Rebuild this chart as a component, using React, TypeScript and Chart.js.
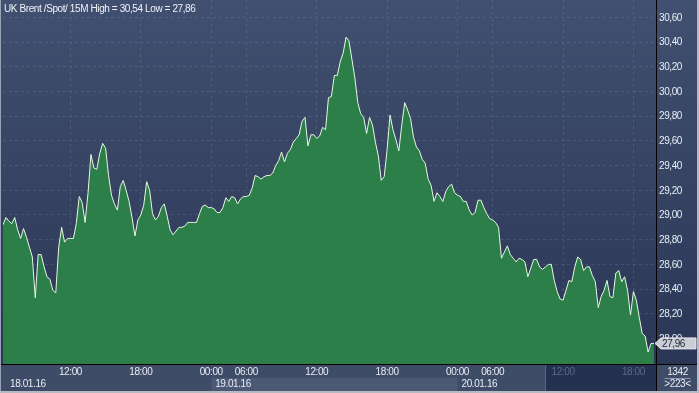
import React, { useEffect, useRef } from 'react';
import { Chart, registerables } from 'chart.js';

Chart.register(...registerables);

// 15-minute closes, UK Brent spot, 18.01.16 06:15 -> 20.01.16 ~19:45
const prices: number[] = [
  28.92, 28.98, 28.95, 28.93, 28.98, 28.88, 28.81, 28.89, 28.82, 28.74,
  28.66, 28.33, 28.68, 28.68, 28.58, 28.50, 28.48, 28.39, 28.37, 28.74,
  28.90, 28.78, 28.81, 28.81, 28.81, 28.93, 29.15, 29.10, 28.94, 29.18,
  29.49, 29.38, 29.37, 29.50, 29.58, 29.54, 29.32, 29.16, 29.09, 29.04,
  29.23, 29.28, 29.20, 29.11, 28.98, 28.83, 28.96, 29.00, 29.08, 29.27,
  29.20, 29.01, 28.96, 28.99, 29.06, 29.09, 28.99, 28.88, 28.84, 28.87,
  28.90, 28.90, 28.91, 28.94, 28.94, 28.94, 28.94, 29.01, 29.07, 29.08,
  29.06, 29.06, 29.05, 29.02, 29.02, 29.06, 29.14, 29.11, 29.15, 29.14,
  29.09, 29.13, 29.15, 29.15, 29.16, 29.22, 29.32, 29.31, 29.29, 29.31,
  29.32, 29.32, 29.34, 29.40, 29.44, 29.51, 29.43, 29.50, 29.53, 29.59,
  29.62, 29.65, 29.76, 29.79, 29.56, 29.65, 29.65, 29.62, 29.64, 29.71,
  29.69, 29.95, 29.96, 30.13, 30.13, 30.24, 30.31, 30.44, 30.41, 30.26,
  30.11, 29.91, 29.82, 29.79, 29.66, 29.79, 29.73, 29.59, 29.48, 29.28,
  29.31, 29.53, 29.81, 29.69, 29.61, 29.52, 29.73, 29.91, 29.85, 29.78,
  29.63, 29.55, 29.52, 29.45, 29.42, 29.29, 29.24, 29.11, 29.18, 29.15,
  29.11, 29.19, 29.23, 29.25, 29.18, 29.16, 29.15, 29.11, 29.11, 29.04,
  29.00, 29.02, 29.12, 29.12, 29.06, 29.01, 28.97, 28.96, 28.94, 28.90,
  28.65, 28.70, 28.75, 28.68, 28.65, 28.62, 28.65, 28.64, 28.62, 28.50,
  28.57, 28.64, 28.64, 28.58, 28.56, 28.58, 28.60, 28.60, 28.47, 28.38,
  28.32, 28.31, 28.39, 28.47, 28.46, 28.58, 28.66, 28.64, 28.55, 28.58,
  28.58, 28.51, 28.46, 28.25, 28.34, 28.39, 28.47, 28.34, 28.33, 28.53,
  28.55, 28.46, 28.50, 28.39, 28.19, 28.38, 28.31, 28.17, 28.04, 28.02,
  27.89, 27.96, 27.96,
];

const priceTicks: number[] = [28.0, 28.2, 28.4, 28.6, 28.8, 29.0, 29.2, 29.4, 29.6, 29.8, 30.0, 30.2, 30.4, 30.6];
const timeTickIdx: number[] = [23, 47, 71, 83, 107, 131, 155, 167, 191, 215];
const timeTickLabels: string[] = ['12:00', '18:00', '00:00', '06:00', '12:00', '18:00', '00:00', '06:00', '12:00', '18:00'];
const dayStartIdx: number[] = [-25, 71, 155];
const dayLabels: string[] = ['18.01.16', '19.01.16', '20.01.16'];
const titleText = 'UK Brent /Spot/ 15M High = 30,54 Low = 27,86';
const counterTop = '1342';
const counterBottom = '>223<';

const Y_MIN = 27.7935;
const Y_MAX = 30.7409;
const X_MAX = 222.7;
const NAV_START_IDX = 185.2;

const FONT = '"Liberation Sans", Arial, sans-serif';
const fmt = (v: number) => v.toFixed(2).replace('.', ',');

const panelPlugin = {
  id: 'panelPlugin',
  beforeDraw(chart: any) {
    const { ctx, width, height, chartArea } = chart;
    ctx.save();
    const g = ctx.createLinearGradient(0, 0, 0, chartArea.bottom);
    g.addColorStop(0, '#415070');
    g.addColorStop(1, '#2b3656');
    ctx.fillStyle = g;
    ctx.fillRect(0, 0, width, height);
    ctx.restore();
  },
  afterDraw(chart: any) {
    const { ctx, width, height, chartArea, scales } = chart;
    const xs = scales.x;
    const ys = scales.y;
    const bottom = chartArea.bottom;
    ctx.save();
    try { (ctx as any).letterSpacing = '-0.4px'; } catch (e) { /* ignore */ }
    // bottom panel
    ctx.fillStyle = '#3f4c68';
    ctx.fillRect(0, bottom + 1, width, height - bottom - 1);
    // lighter band for the middle day
    const d1 = xs.getPixelForValue(dayStartIdx[1]);
    const d2 = xs.getPixelForValue(dayStartIdx[2]);
    ctx.fillStyle = '#4c5975';
    ctx.fillRect(d1, 378, d2 - d1, 13);
    // navigator dark region
    const navX = xs.getPixelForValue(NAV_START_IDX);
    ctx.fillStyle = '#253150';
    ctx.fillRect(navX, bottom + 1, chartArea.right - navX, 391 - bottom - 1);
    ctx.fillStyle = '#5b6782';
    ctx.fillRect(navX - 1, bottom + 1, 1, 391 - bottom - 1);
    // black axis lines
    ctx.fillStyle = '#000';
    ctx.fillRect(0, bottom, width, 1);
    ctx.fillRect(chartArea.right, bottom, 1, 391 - bottom);

    ctx.font = `10px ${FONT}`;
    // price labels
    ctx.textAlign = 'left';
    ctx.textBaseline = 'middle';
    ctx.fillStyle = '#e8edf5';
    priceTicks.forEach((v) => {
      ctx.fillText(fmt(v), chartArea.right + 3, ys.getPixelForValue(v) + 0.5);
    });

    // time labels
    ctx.textAlign = 'center';
    timeTickIdx.forEach((idx, i) => {
      const px = xs.getPixelForValue(idx);
      ctx.fillStyle = idx > NAV_START_IDX ? '#5d6984' : '#e8edf5';
      ctx.fillText(timeTickLabels[i], px, 372);
    });
    // date labels
    ctx.textAlign = 'left';
    ctx.fillStyle = '#e8edf5';
    dayStartIdx.forEach((idx, i) => {
      const px = Math.max(xs.getPixelForValue(idx) + 4, 10);
      ctx.fillText(dayLabels[i], px, 384);
    });
    // counter panel
    ctx.textAlign = 'center';
    const cx = (chartArea.right + width) / 2;
    ctx.fillText(counterTop, cx, 372);
    ctx.fillStyle = '#8d96ab';
    ctx.fillRect(cx - 13, 378, 26, 1);
    ctx.fillStyle = '#e8edf5';
    ctx.fillText(counterBottom, cx, 384.5);

    // title
    ctx.textAlign = 'left';
    ctx.textBaseline = 'alphabetic';
    ctx.fillStyle = '#eef2f8';
    ctx.fillText(titleText, 4, 12);

    // last value box
    const last = prices[prices.length - 1];
    const yy = ys.getPixelForValue(last);
    const r = chartArea.right;
    ctx.beginPath();
    ctx.moveTo(r - 1, yy);
    ctx.lineTo(r + 5, yy - 5.5);
    ctx.lineTo(width - 3, yy - 5.5);
    ctx.lineTo(width - 3, yy + 5.5);
    ctx.lineTo(r + 5, yy + 5.5);
    ctx.closePath();
    ctx.fillStyle = '#c9cdd6';
    ctx.fill();
    ctx.strokeStyle = '#e3e6ec';
    ctx.lineWidth = 1;
    ctx.stroke();
    ctx.fillStyle = '#1c2433';
    ctx.textBaseline = 'middle';
    ctx.fillText(fmt(last), r + 6, yy + 0.5);

    // outer frame
    ctx.fillStyle = '#9aa3b5';
    ctx.fillRect(0, 0, 1, height);
    ctx.fillStyle = '#b4b9c4';
    ctx.fillRect(0, height - 2, width, 2);
    ctx.fillRect(width - 2, 0, 2, height);
    ctx.restore();
  },
};

export default function App() {
  const ref = useRef<HTMLCanvasElement>(null);
  useEffect(() => {
    document.body.style.margin = '0';
    const canvas = ref.current!;
    const chart = new Chart(canvas, {
      type: 'line',
      data: {
        datasets: [
          {
            data: prices.map((v, i) => ({ x: i, y: v })),
            fill: 'start',
            backgroundColor: '#2d7f4a',
            borderColor: '#e6f8e0',
            borderWidth: 1,
            pointRadius: 0,
            tension: 0,
          },
        ],
      },
      options: {
        responsive: false,
        animation: false,
        devicePixelRatio: 1,
        events: [],
        layout: { padding: { left: 3, right: 0, top: 0, bottom: 0 } },
        plugins: { legend: { display: false }, tooltip: { enabled: false } },
        scales: {
          x: {
            type: 'linear',
            min: 0,
            max: X_MAX,
            z: 1,
            afterBuildTicks: (s: any) => {
              s.ticks = timeTickIdx.map((v) => ({ value: v }));
            },
            afterFit: (s: any) => {
              s.height = 29;
              s.paddingLeft = 0;
              s.paddingRight = 0;
            },
            ticks: { display: false },
            grid: { color: 'rgba(255,255,255,0.1)', drawTicks: false, lineWidth: 1 },
            border: { display: true, color: '#000', width: 1, dash: [3, 3] },
          },
          y: {
            position: 'right',
            min: Y_MIN,
            max: Y_MAX,
            z: 1,
            afterBuildTicks: (s: any) => {
              s.ticks = priceTicks.map((v) => ({ value: v }));
            },
            afterFit: (s: any) => {
              s.width = 43;
              s.paddingTop = 0;
              s.paddingBottom = 0;
            },
            ticks: { display: false },
            grid: { color: 'rgba(255,255,255,0.1)', drawTicks: false, lineWidth: 1 },
            border: { display: true, color: '#000', width: 1, dash: [3, 3] },
          },
        },
      } as any,
      plugins: [panelPlugin],
    });
    return () => chart.destroy();
  }, []);
  return <canvas ref={ref} width={699} height={393} style={{ display: 'block' }} />;
}
